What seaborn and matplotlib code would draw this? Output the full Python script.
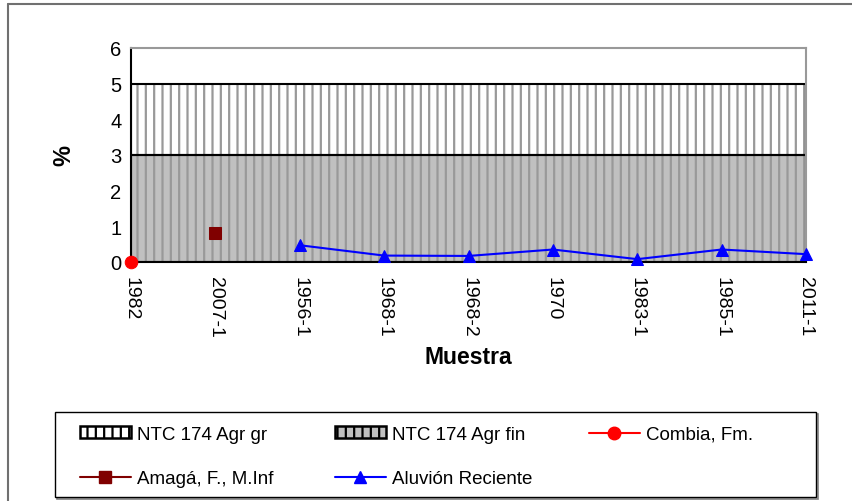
import numpy as np
import pandas as pd
import matplotlib
matplotlib.use('Agg')
import matplotlib.pyplot as plt
import seaborn as sns
from matplotlib.patches import Patch, Rectangle
from matplotlib.lines import Line2D

# Data
muestras = ['1982', '2007-1', '1956-1', '1968-1', '1968-2', '1970', '1983-1', '1985-1', '2011-1']
limite_fino = 3.0      # NTC 174 Agr fin
limite_grueso = 5.0    # NTC 174 Agr gr
combia = [0.0]
amaga = [0.8]
aluvion = [0.47, 0.18, 0.17, 0.35, 0.08, 0.35, 0.22]

sns.set_style('white')
plt.rcParams['font.family'] = ['Liberation Sans', 'DejaVu Sans']
plt.rcParams['hatch.linewidth'] = 1.6
plt.rcParams['text.color'] = 'black'
plt.rcParams['xtick.color'] = 'black'
plt.rcParams['ytick.color'] = 'black'
plt.rcParams['axes.labelcolor'] = 'black'

W, H = 852, 502
fig = plt.figure(figsize=(8.52, 5.02), dpi=100)
ax = fig.add_axes([131 / W, 1 - 263 / H, 675 / W, 214 / H])

xpos = np.arange(len(muestras))

# stacked areas
ax.fill_between(xpos, 0, limite_fino, facecolor='#c0c0c0', edgecolor='#999999',
                hatch='||', linewidth=0, zorder=1)
ax.fill_between(xpos, limite_fino, limite_grueso, facecolor='white', edgecolor='#999999',
                hatch='||', linewidth=0, zorder=1)
ax.add_patch(Rectangle((0, 0), len(muestras) - 1, limite_fino, fill=False,
                       edgecolor='black', linewidth=1.5, zorder=2))
ax.add_patch(Rectangle((0, limite_fino), len(muestras) - 1, limite_grueso - limite_fino,
                       fill=False, edgecolor='black', linewidth=1.5, zorder=2))

df_combia = pd.DataFrame({'x': xpos[:1], 'y': combia})
df_amaga = pd.DataFrame({'x': xpos[1:2], 'y': amaga})
df_aluvion = pd.DataFrame({'x': xpos[2:], 'y': aluvion})

sns.lineplot(data=df_combia, x='x', y='y', ax=ax, color='red', marker='o', ms=9,
             markeredgecolor='red', clip_on=False, zorder=5)
sns.lineplot(data=df_amaga, x='x', y='y', ax=ax, color='#800000', marker='s', ms=8,
             markeredgecolor='#800000', clip_on=False, zorder=5)
sns.lineplot(data=df_aluvion, x='x', y='y', ax=ax, color='blue', marker='^', ms=8.5,
             markeredgecolor='blue', linewidth=1.5, clip_on=False, zorder=5)

ax.set_xlim(0, len(muestras) - 1)
ax.set_ylim(0, 6)
ax.set_xticks(xpos)
ax.set_xticklabels(muestras, rotation=-90, fontsize=14)
ax.set_yticks(range(0, 7))
ax.set_yticklabels([str(v) for v in range(0, 7)], fontsize=14.5)
ax.tick_params(axis='both', direction='out', length=4, width=1, color='black', pad=3)
ax.tick_params(axis='x', pad=6)
ax.set_xlabel('Muestra', fontsize=16.5, fontweight='bold', labelpad=6)
ax.set_ylabel('%', fontsize=17, fontweight='bold', labelpad=25)

for s in ['top', 'right']:
    ax.spines[s].set_color('#999999')
    ax.spines[s].set_linewidth(1.5)
ax.spines['left'].set_color('black')
ax.spines['left'].set_linewidth(1.5)
ax.spines['bottom'].set_color('black')
ax.spines['bottom'].set_linewidth(1.5)

# legend: three columns placed separately
col_handles = [
    [Patch(facecolor='white', edgecolor='black', hatch='||', linewidth=1.8, label='NTC 174 Agr gr'),
     Line2D([], [], color='#800000', marker='s', ms=8, lw=1.5, label='Amagá, F., M.Inf')],
    [Patch(facecolor='#c0c0c0', edgecolor='black', hatch='||', linewidth=1.8, label='NTC 174 Agr fin'),
     Line2D([], [], color='blue', marker='^', ms=8.5, lw=1.5, label='Aluvión Reciente')],
    [Line2D([], [], color='red', marker='o', ms=9, lw=1.5, label='Combia, Fm.')],
]
col_x = [80, 335, 589]
for hs, cx in zip(col_handles, col_x):
    fig.legend(handles=hs, loc='upper left', bbox_to_anchor=(cx / W, 1 - 427 / H),
               fontsize=13.5, frameon=False, handlelength=2.7, handleheight=0.6,
               handletextpad=0.35, borderpad=0, borderaxespad=0, labelspacing=1.45)

# legend frame with light shadow
fig.patches.append(Rectangle((57 / W, 1 - 500 / H), 761 / W, 85 / H, transform=fig.transFigure,
                             facecolor='none', edgecolor='#808080', linewidth=1.2, zorder=0))
fig.patches.append(Rectangle((55 / W, 1 - 498 / H), 761 / W, 85 / H, transform=fig.transFigure,
                             facecolor='white', edgecolor='black', linewidth=1.0, zorder=1))

# outer chart border (top and left visible)
fig.lines.append(Line2D([8 / W, 1], [1 - 5 / H, 1 - 5 / H], transform=fig.transFigure,
                        color='#707070', linewidth=1.5))
fig.lines.append(Line2D([8 / W, 8 / W], [0, 1 - 5 / H], transform=fig.transFigure,
                        color='#707070', linewidth=1.5))

fig.savefig('out.png', dpi=100)
